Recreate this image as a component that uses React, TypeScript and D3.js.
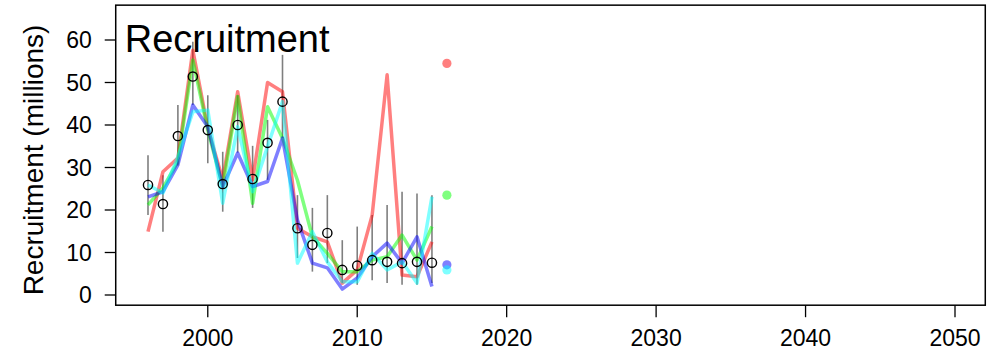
import { useEffect, useRef } from 'react';
import * as d3 from 'd3';

// observed recruitment (millions) with error bars
const years = d3.range(1996, 2016);
const observed = [25.9, 21.4, 37.4, 51.4, 38.8, 26.1, 40.0, 27.3, 35.8, 45.5, 15.7, 11.8, 14.6, 5.9, 6.9, 8.2, 7.8, 7.5, 7.8, 7.6];
const upper = [32.9, 28.2, 44.7, 59.6, 47.0, 33.7, 47.0, 35.1, 41.2, 56.5, 23.5, 20.5, 23.5, 12.9, 16.1, 18.8, 21.2, 24.3, 23.9, 23.5];
const lower = [18.8, 14.9, 30.5, 44.7, 31.0, 19.6, 33.5, 20.5, 27.1, 37.0, 8.7, 5.5, 7.5, 2.8, 2.4, 3.5, 2.8, 2.4, 2.4, 2.8];

// estimated series
const redSeries = [14.9, 29.0, 32.2, 57.6, 39.3, 27.1, 47.8, 27.1, 50.0, 47.8, 15.7, 13.7, 12.5, 2.8, 5.9, 18.8, 51.8, 4.7, 4.3, 12.5];
const greenSeries = [21.2, 25.2, 31.4, 55.3, 38.8, 25.5, 46.7, 21.6, 44.3, 36.9, 27.0, 13.7, 9.8, 5.5, 5.5, 8.2, 9.0, 14.1, 8.2, 16.1];
const blueSeries = [23.1, 24.3, 30.6, 44.7, 39.6, 25.5, 33.4, 25.5, 26.7, 36.9, 17.6, 7.5, 6.4, 1.4, 4.0, 9.0, 12.2, 7.5, 13.7, 2.0];
const cyanSeries = [25.9, 24.0, 32.5, 43.1, 43.5, 21.6, 39.6, 24.3, 34.9, 45.5, 7.5, 14.9, 7.8, 3.1, 3.1, 9.8, 5.9, 7.8, 2.8, 23.1];

// 2016 projections
const projYear = 2016;
const projValues = [54.5, 23.5, 7.1, 5.9];
const seriesColors = ['#ff0000', '#00ff00', '#0000ff', '#00ffff'];

const xTicks = [2000, 2010, 2020, 2030, 2040, 2050];
const yTicks = [0, 10, 20, 30, 40, 50, 60];

const W = 989;
const H = 355;

export default function App() {
  const ref = useRef<SVGSVGElement>(null);

  useEffect(() => {
    const svg = d3.select(ref.current);
    svg.selectAll('*').remove();

    const x = d3.scaleLinear().domain([1996, 2050]).range([148, 955]);
    const y = d3.scaleLinear().domain([0, 60]).range([295, 40]);
    const x0 = x(1996 - 54 * 0.04);
    const x1 = x(2050 + 54 * 0.04) - 2;
    const y0 = y(-2.4);
    const y1 = y(68.2);

    const font = 'Liberation Sans, Arial, sans-serif';

    // error bars
    svg.append('g')
      .selectAll('line')
      .data(years)
      .join('line')
      .attr('x1', d => x(d)).attr('x2', d => x(d))
      .attr('y1', (d, i) => y(lower[i]))
      .attr('y2', (d, i) => y(upper[i]))
      .attr('stroke', '#7f7f7f')
      .attr('stroke-width', 1.6);

    const allSeries = [redSeries, greenSeries, blueSeries, cyanSeries];
    const line = d3.line<number>().x((d, i) => x(years[i])).y(d => y(d));
    allSeries.forEach((s, k) => {
      svg.append('path')
        .attr('d', line(s))
        .attr('fill', 'none')
        .attr('stroke', seriesColors[k])
        .attr('stroke-opacity', 0.5)
        .attr('stroke-width', 3.5)
        .attr('stroke-linejoin', 'round');
    });

    // projection dots
    svg.append('g')
      .selectAll('circle')
      .data(projValues)
      .join('circle')
      .attr('cx', x(projYear))
      .attr('cy', d => y(d))
      .attr('r', 4.6)
      .attr('fill', (d, i) => seriesColors[i])
      .attr('fill-opacity', 0.5);

    // observed points
    svg.append('g')
      .selectAll('circle')
      .data(observed)
      .join('circle')
      .attr('cx', (d, i) => x(years[i]))
      .attr('cy', d => y(d))
      .attr('r', 4.6)
      .attr('fill', 'none')
      .attr('stroke', '#000')
      .attr('stroke-width', 1.4);

    // box
    svg.append('rect')
      .attr('x', x0).attr('y', y1)
      .attr('width', x1 - x0).attr('height', y0 - y1)
      .attr('fill', 'none')
      .attr('stroke', '#000')
      .attr('stroke-width', 1.5);

    // y axis
    const gy = svg.append('g').attr('font-family', font);
    yTicks.forEach(t => {
      gy.append('line')
        .attr('x1', x0 - 11).attr('x2', x0)
        .attr('y1', y(t)).attr('y2', y(t))
        .attr('stroke', '#000').attr('stroke-width', 1.3);
      gy.append('text')
        .attr('x', x0 - 24).attr('y', y(t))
        .attr('dy', '0.36em')
        .attr('text-anchor', 'end')
        .attr('font-size', 23)
        .text(t);
    });

    // x axis
    const gx = svg.append('g').attr('font-family', font);
    xTicks.forEach(t => {
      gx.append('line')
        .attr('x1', x(t)).attr('x2', x(t))
        .attr('y1', y0).attr('y2', y0 + 12)
        .attr('stroke', '#000').attr('stroke-width', 1.3);
      gx.append('text')
        .attr('x', x(t)).attr('y', y0 + 33)
        .attr('dy', '0.36em')
        .attr('text-anchor', 'middle')
        .attr('font-size', 23)
        .text(t);
    });

    svg.append('text')
      .attr('transform', `translate(43,160) rotate(-90)`)
      .attr('text-anchor', 'middle')
      .attr('font-family', font)
      .attr('font-size', 28)
      .text('Recruitment (millions)');

    svg.append('text')
      .attr('x', x0 + 9).attr('y', 52)
      .attr('font-family', font)
      .attr('font-size', 38)
      .text('Recruitment');
  }, []);

  return (
    <svg ref={ref} width={W} height={H} style={{ position: 'absolute', left: 0, top: 0 }} />
  );
}
